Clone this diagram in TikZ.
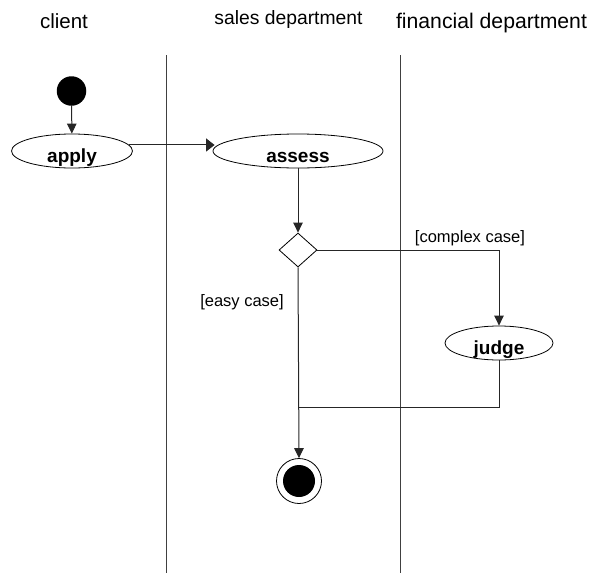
\documentclass[tikz,border=0pt]{standalone}
\usepackage{fontspec}
\setmainfont{Liberation Sans}
\usetikzlibrary{shapes.geometric,arrows.meta}

\tikzset{
  lane/.style={draw=black!75, line width=1pt},
  flow/.style={draw=black!85, line width=1pt},
  arr/.style={flow, -{Triangle[length=10pt,width=9.5pt]}},
  harr/.style={flow, -{Triangle[length=8.5pt,width=13pt]}},
  act/.style={ellipse, draw, line width=0.8pt, inner sep=0pt,
    minimum height=34pt, text height=22pt, text depth=0pt,
    font=\fontsize{19}{19}\selectfont\bfseries},
  head/.style={anchor=base, inner sep=0pt},
  guard/.style={anchor=base, inner sep=0pt, font=\fontsize{16.5}{16.5}\selectfont}
}

\begin{document}
\begin{tikzpicture}[x=1pt, y=-1pt]
\useasboundingbox (0,0) rectangle (594,573);

% swimlane separators
\coordinate (l1top) at (166,55);
\coordinate (l1bot) at (166,573);
\coordinate (l2top) at (400,55);
\coordinate (l2bot) at (400,573);
\draw[lane] (l1top) -- (l1bot);
\draw[lane] (l2top) -- (l2bot);

% lane headings
\node[head, font=\fontsize{20.5}{20.5}\selectfont] (hclient) at (64,28) {client};
\node[head, font=\fontsize{19.3}{19.3}\selectfont] (hsales) at (288.5,24.5) {sales department};
\node[head, font=\fontsize{21.2}{21.2}\selectfont] (hfin) at (491.5,28) {financial department};

% activity nodes
\node[circle, fill=black, minimum size=29.5pt, inner sep=0pt] (start) at (71.5,91) {};
\node[act, minimum width=121pt] (apply) at (72,151) {apply};
\node[act, minimum width=170pt] (assess) at (298,151) {assess};
\node[diamond, draw, line width=0.8pt, minimum width=38pt, minimum height=34pt, inner sep=0pt] (dec) at (298,250) {};
\node[act, minimum width=108pt] (judge) at (499,343) {judge};
\node[circle, draw, line width=0.8pt, minimum size=45pt, inner sep=0pt] (end) at (299,481) {};
\node[circle, fill=black, minimum size=32pt, inner sep=0pt] (enddot) at (end) {};
\coordinate (merge) at (298,407);

% guards
\node[guard] (gcomplex) at (470,242) {[complex case]};
\node[guard] (geasy) at (242,306) {[easy case]};

% control flow
\draw[arr] (start) -- (apply);
\draw[harr] (apply.6) -- ([xshift=2pt]apply.6 -| assess.west);
\draw[arr] (assess) -- (dec);
\draw[arr] (dec.east) -| (judge.north);
\draw[flow] (judge.south) |- (merge);
\draw[arr] (dec.south) -- (end.north);
\end{tikzpicture}
\end{document}
